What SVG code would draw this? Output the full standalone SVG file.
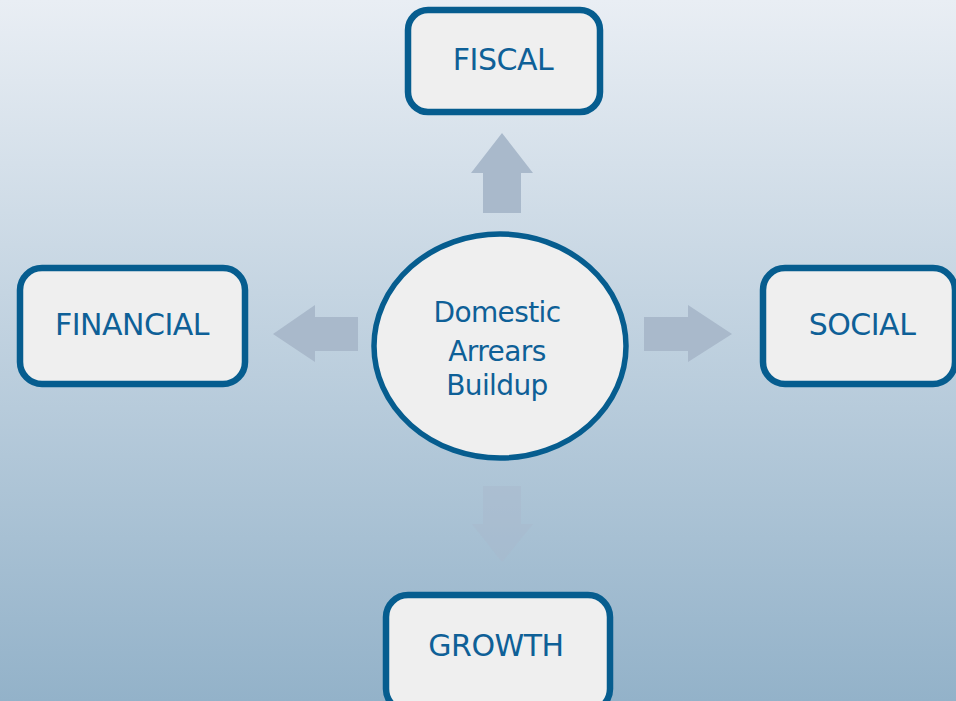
<svg xmlns="http://www.w3.org/2000/svg" width="956" height="701" viewBox="0 0 956 701">
<defs>
<linearGradient id="bg" x1="0" y1="0" x2="0" y2="1">
<stop offset="0" stop-color="#e9eef4"/>
<stop offset="1" stop-color="#93b2c9"/>
</linearGradient>
<style>
.box{fill:#efefef;stroke:#065d8f;stroke-width:6.5}
.lbl{font-family:"DejaVu Sans",Verdana,sans-serif;font-size:30px;letter-spacing:-0.5px;fill:#0e6097;text-anchor:middle}
.ctr{font-family:"DejaVu Sans",Verdana,sans-serif;font-size:28px;letter-spacing:-0.6px;fill:#0e6097;text-anchor:middle}
.arr{fill:#a9b9cb}
</style>
</defs>
<rect width="956" height="701" fill="url(#bg)"/>
<g id="connectors">
<polygon class="arr" points="483,213 483,173 471,173 502,133 533,173 521,173 521,213"/>
<polygon class="arr" points="358,317 315,317 315,305 273,334 315,362 315,351 358,351"/>
<polygon class="arr" points="644,317 688,317 688,305 732,334 688,362 688,351 644,351"/>
<polygon class="arr" opacity="0.45" fill="#a3aebd" points="483,486 521,486 521,524 533,524 502,562 472,524 483,524"/>
</g>
<g id="fiscal">
<rect class="box" x="408" y="10" width="192" height="102" rx="20"/>
<text class="lbl" x="503" y="70">FISCAL</text>
</g>
<g id="financial">
<rect class="box" x="20" y="268" width="225" height="116" rx="22"/>
<text class="lbl" x="132" y="335">FINANCIAL</text>
</g>
<g id="social">
<rect class="box" x="763" y="268" width="192" height="116" rx="22"/>
<text class="lbl" x="862" y="335">SOCIAL</text>
</g>
<g id="growth">
<rect class="box" x="386" y="595" width="224" height="116" rx="22"/>
<text class="lbl" x="496" y="656">GROWTH</text>
</g>
<g id="center">
<ellipse cx="500" cy="346" rx="126" ry="112" fill="#efefef" stroke="#065d8f" stroke-width="5.5"/>
<text class="ctr" x="497" y="322">Domestic</text>
<text class="ctr" x="497" y="361">Arrears</text>
<text class="ctr" x="497" y="395">Buildup</text>
</g>
</svg>
